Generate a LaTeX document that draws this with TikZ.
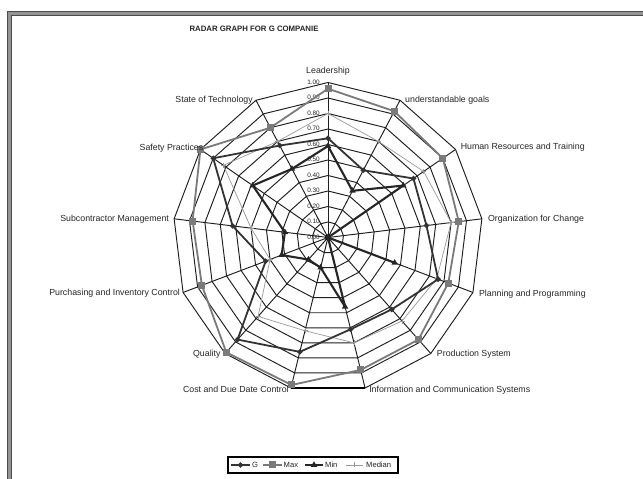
\documentclass[tikz,border=0pt]{standalone}
\usepackage{fontspec}
\setmainfont{Liberation Sans}
\usetikzlibrary{shapes.geometric}

% series values, clockwise from Leadership
\def\Gdata{0.64,0.49,0.67,0.64,0.76,0.62,0.61,0.76,0.88,0.43,0.62,0.90,0.67}
\def\Maxdata{0.96,0.92,0.90,0.85,0.83,0.88,0.88,0.98,0.99,0.87,0.88,1.00,0.80}
\def\Mindata{0.59,0.34,0.59,0.00,0.46,0.00,0.46,0.20,0.19,0.32,0.28,0.59,0.50}
\def\Meddata{0.80,0.70,0.75,0.80,0.75,0.72,0.70,0.62,0.68,0.40,0.50,0.82,0.70}

\definecolor{maxgray}{gray}{0.48}
\definecolor{medgray}{gray}{0.60}
\definecolor{framegray}{gray}{0.58}

\tikzset{
  gridline/.style={line width=0.95pt, black!88},
  gline/.style={line width=1.8pt, black!80, line join=round},
  maxline/.style={line width=1.8pt, maxgray, line join=round},
  minline/.style={line width=2.1pt, black!85, line join=round},
  medline/.style={line width=0.7pt, medgray},
  gmark/.style={diamond, fill=black!80, inner sep=0pt, minimum size=6pt},
  maxmark/.style={rectangle, fill=maxgray, inner sep=0pt, minimum size=7pt},
  minmark/.style={regular polygon, regular polygon sides=3, fill=black!85, inner sep=0pt, minimum size=7.5pt},
  catlabel/.style={font=\fontsize{8.8}{10}\selectfont, inner sep=0pt, text=black!85},
  scalelabel/.style={font=\fontsize{6.4}{7}\selectfont, inner sep=0pt, anchor=mid east, text=black!85},
  legtext/.style={font=\fontsize{7.6}{8}\selectfont, inner sep=0pt, anchor=mid west, text=black!85},
}

\begin{document}
\begin{tikzpicture}[x=1pt, y=1pt]
\useasboundingbox (0,0) rectangle (643,479);
\fill[white] (0,0) rectangle (643,479);

% window frame along top and left
\draw[framegray, line width=4pt] (9,0) -- (9,466) -- (643,466);
\draw[black!70, line width=0.8pt] (7,0) -- (7,468) -- (643,468);
\draw[black!70, line width=0.8pt] (11,0) -- (11,464) -- (643,464);

% title
\node[font=\bfseries\fontsize{7.8}{9}\selectfont, anchor=mid, inner sep=0pt, text=black!85] (title) at (254,449.7) {RADAR GRAPH FOR G COMPANIE};

\begin{scope}[shift={(328,241.5)}]
  \coordinate (c) at (0,0);
  % outer vertices
  \foreach \i in {0,...,12} { \coordinate (v\i) at ({90-\i*360/13}:155); }
  % rings
  \foreach \k in {1,...,10} {
    \draw[gridline] ({90}:{\k*15.5}) \foreach \i in {1,...,12} { -- ({90-\i*360/13}:{\k*15.5}) } -- cycle;
  }
  % spokes
  \foreach \i in {0,...,12} { \draw[gridline] (c) -- (v\i); }
  \draw[line width=1.6pt, black] (v6) -- (v7);
  \fill[black] (c) circle (3pt);

  % scale
  \foreach \t [count=\k from 0] in {0.00,0.10,0.20,0.30,0.40,0.50,0.60,0.70,0.80,0.90,1.00} {
    \node[scalelabel] (s\k) at (-8,{\k*15.5+1}) {\t};
  }

  % data points
  \foreach \v [count=\i from 0] in \Gdata   { \coordinate (g\i) at ({90-\i*360/13}:{\v*155}); }
  \foreach \v [count=\i from 0] in \Maxdata { \coordinate (x\i) at ({90-\i*360/13}:{\v*155}); }
  \foreach \v [count=\i from 0] in \Mindata { \coordinate (n\i) at ({90-\i*360/13}:{\v*155}); }
  \foreach \v [count=\i from 0] in \Meddata { \coordinate (m\i) at ({90-\i*360/13}:{\v*155}); }

  % median
  \draw[medline] (m0) \foreach \i in {1,...,12} { -- (m\i) } -- cycle;
  \foreach \i in {0,...,12} { \draw[medline] (m\i) +(-2.5,0) -- +(2.5,0) (m\i) +(0,-2.5) -- +(0,2.5); }
  % max
  \draw[maxline] (x0) \foreach \i in {1,...,12} { -- (x\i) } -- cycle;
  \foreach \i in {0,...,12} { \node[maxmark] (xm\i) at (x\i) {}; }
  % min
  \draw[minline] (n0) \foreach \i in {1,...,12} { -- (n\i) } -- cycle;
  \foreach \i in {0,...,12} { \node[minmark] (nm\i) at (n\i) {}; }
  % G
  \draw[gline] (g0) \foreach \i in {1,...,12} { -- (g\i) } -- cycle;
  \foreach \i in {0,...,12} { \node[gmark] (gm\i) at (g\i) {}; }

  % category labels
  \node[catlabel, anchor=mid] (l0) at ([yshift=11.5pt]v0) {Leadership};
  \node[catlabel, anchor=mid west] (l1) at ([xshift=5pt]v1) {understandable goals};
  \node[catlabel, anchor=mid west] (l2) at ([xshift=5pt,yshift=2.5pt]v2) {Human Resources and Training};
  \node[catlabel, anchor=mid west] (l3) at ([xshift=6pt]v3) {Organization for Change};
  \node[catlabel, anchor=mid west] (l4) at ([xshift=6pt,yshift=-1pt]v4) {Planning and Programming};
  \node[catlabel, anchor=mid west] (l5) at ([xshift=6pt]v5) {Production System};
  \node[catlabel, anchor=mid west] (l6) at ([xshift=4pt,yshift=-2pt]v6) {Information and Communication Systems};
  \node[catlabel, anchor=mid east] (l7) at ([xshift=-2pt,yshift=-2pt]v7) {Cost and Due Date Control};
  \node[catlabel, anchor=mid east] (l8) at ([xshift=-4.5pt]v8) {Quality};
  \node[catlabel, anchor=mid east] (l9) at ([xshift=-3pt]v9) {Purchasing and Inventory Control};
  \node[catlabel, anchor=mid east] (l10) at ([xshift=-5pt]v10) {Subcontractor Management};
  \node[catlabel, anchor=mid east] (l11) at ([xshift=3pt,yshift=2pt]v11) {Safety Practices};
  \node[catlabel, anchor=mid east] (l12) at ([xshift=-3pt]v12) {State of Technology};
\end{scope}

% legend
\node[draw=black, line width=1.3pt, minimum width=170pt, minimum height=16pt, inner sep=0pt] (leg) at (313,14) {};
\coordinate (lga) at (231,14); \coordinate (lgb) at (250,14);
\draw[gline] (lga) -- (lgb); \node[gmark] (lgm) at (240.5,14) {};
\node[legtext] (lgt) at (252,14) {G};
\coordinate (lxa) at (263,14); \coordinate (lxb) at (282,14);
\draw[maxline] (lxa) -- (lxb); \node[maxmark] (lxm) at (272.5,14) {};
\node[legtext] (lxt) at (283.5,14) {Max};
\coordinate (lna) at (305,14); \coordinate (lnb) at (323,14);
\draw[minline] (lna) -- (lnb); \node[minmark] (lnm) at (314,14) {};
\node[legtext] (lnt) at (325,14) {Min};
\coordinate (lma) at (346,14); \coordinate (lmb) at (363,14);
\draw[medline] (lma) -- (lmb); \draw[medline] (354.5,11.5) -- (354.5,16.5);
\node[legtext] (lmt) at (366,14) {Median};
\end{tikzpicture}
\end{document}
